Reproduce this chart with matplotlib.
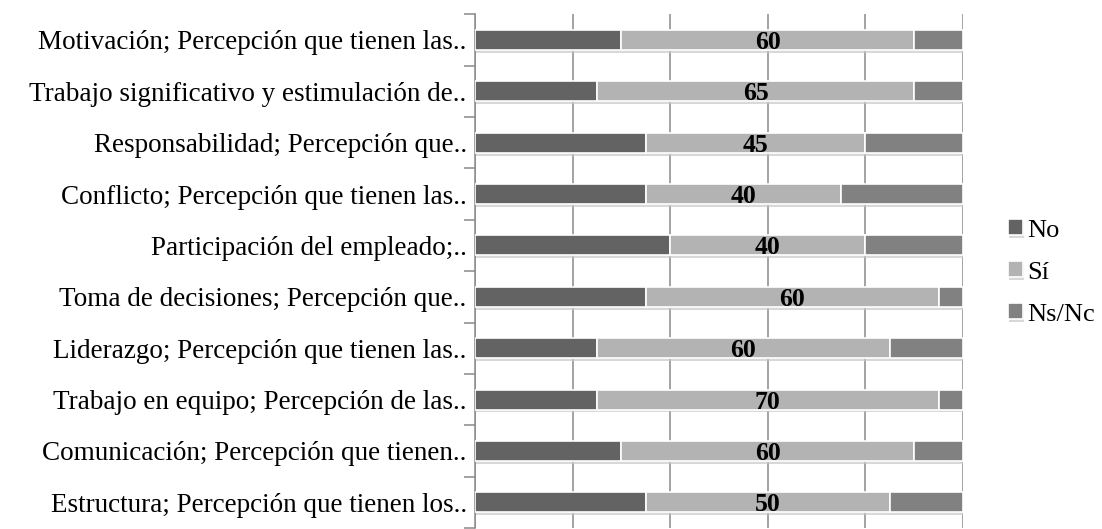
import matplotlib
matplotlib.use("Agg")
import matplotlib.pyplot as plt
import matplotlib.patheffects as pe
import numpy as np

categories = [
    "Motivación; Percepción que tienen las..",
    "Trabajo significativo y estimulación de..",
    "Responsabilidad; Percepción que..",
    "Conflicto; Percepción que tienen las..",
    "Participación del empleado;..",
    "Toma de decisiones; Percepción que..",
    "Liderazgo; Percepción que tienen las..",
    "Trabajo en equipo; Percepción de las..",
    "Comunicación; Percepción que tienen..",
    "Estructura; Percepción que tienen los..",
]
no_vals = [30, 25, 35, 35, 40, 35, 25, 25, 30, 35]
si_vals = [60, 65, 45, 40, 40, 60, 60, 70, 60, 50]
ns_vals = [10, 10, 20, 25, 20, 5, 15, 5, 10, 15]
series_names = ["No", "Sí", "Ns/Nc"]
colors = ["#636363", "#b3b3b3", "#818181"]

plt.rcParams['font.family'] = ['Liberation Serif', 'DejaVu Serif']

fig = plt.figure(figsize=(11.02, 5.29), dpi=100)
ax = fig.add_axes([475/1102, 1/529, (963-475)/1102, (528-14.3)/529])

n = len(categories)
y = np.arange(n)[::-1]
no = np.array(no_vals, float)
si = np.array(si_vals, float)
ns = np.array(ns_vals, float)
total = no + si + ns
p_no = no / total * 100
p_si = si / total * 100
p_ns = ns / total * 100

shadow = [pe.SimplePatchShadow(offset=(0.5, -2), shadow_rgbFace="#c8c8c8", alpha=0.7), pe.Normal()]
h = 0.39
b1 = ax.barh(y, p_no, height=h, color=colors[0], edgecolor="white", linewidth=1.2, label=series_names[0], zorder=3)
b2 = ax.barh(y, p_si, left=p_no, height=h, color=colors[1], edgecolor="white", linewidth=1.2, label=series_names[1], zorder=3)
b3 = ax.barh(y, p_ns, left=p_no + p_si, height=h, color=colors[2], edgecolor="white", linewidth=1.2, label=series_names[2], zorder=3)
for bars in (b1, b2, b3):
    for b in bars:
        b.set_path_effects(shadow)

for yi, l, w, v in zip(y, p_no, p_si, si_vals):
    ax.text(l + w / 2, yi, f"{v:g}", ha="center", va="center_baseline", fontsize=18.5,
            fontweight="bold", color="black", zorder=5)

ax.set_xlim(0, 100)
ax.set_ylim(-0.5, n - 0.5)
ax.set_xticks([0, 20, 40, 60, 80, 100])
ax.xaxis.grid(True, color="#8a8a8a", linewidth=1.1, zorder=0)
ax.tick_params(axis="x", length=0, labelbottom=False)
ax.set_yticks(y)
ax.set_yticklabels(categories, fontsize=19.5)
ax.set_yticks(np.arange(n + 1) - 0.5, minor=True)
ax.tick_params(axis="y", which="major", length=0, pad=6)
ax.tick_params(axis="y", which="minor", length=8, color="#8a8a8a", width=1.1)
for s in ["top", "right", "bottom"]:
    ax.spines[s].set_visible(False)
ax.spines["left"].set_color("#8a8a8a")
ax.spines["left"].set_linewidth(1.1)

leg = fig.legend(handles=[b1, b2, b3], labels=series_names, loc="center left",
                 bbox_to_anchor=(990/1102, 0.485), frameon=False, fontsize=19,
                 handlelength=0.55, handleheight=0.55, handletextpad=0.15, labelspacing=0.75,
                 borderpad=0.2)

fig.savefig("out.png", dpi=100)
